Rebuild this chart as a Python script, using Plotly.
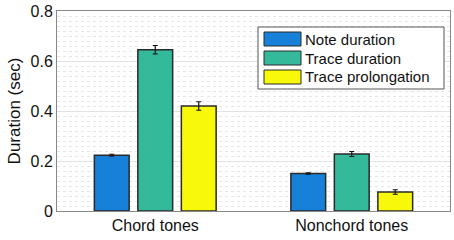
import plotly.graph_objects as go

categories = ["Chord tones", "Nonchord tones"]
series_names = ["Note duration", "Trace duration", "Trace prolongation"]
note_duration = [0.223, 0.150]
trace_duration = [0.645, 0.228]
trace_prolongation = [0.420, 0.076]
note_err = [0.004, 0.003]
trace_err = [0.017, 0.010]
prolong_err = [0.017, 0.009]
colors = ["#1780d8", "#35b99b", "#f8f80a"]

W, H = 454, 240
ML, MR, MT, MB = 57, 4, 11, 29
PW, PH = W - ML - MR, H - MT - MB

def px_x(x):
    return (x - ML) / PW

def px_y(y):
    return (H - MB - y) / PH

fig = go.Figure()
for name, vals, errs, col in zip(series_names,
                                 [note_duration, trace_duration, trace_prolongation],
                                 [note_err, trace_err, prolong_err], colors):
    fig.add_trace(go.Bar(
        x=categories, y=vals, name=name, showlegend=False,
        marker=dict(color=col, line=dict(color="#2a2a2a", width=1.5)),
        error_y=dict(type="data", array=errs, color="#111", thickness=1.2, width=2.5),
    ))

# custom legend (box, swatches, labels)
shapes = [dict(type="rect", xref="paper", yref="paper",
               x0=px_x(258), x1=px_x(444), y0=px_y(89), y1=px_y(27),
               line=dict(color="#555", width=1), fillcolor="white", layer="above")]
annotations = []
row_centers = [39, 58, 77]
for name, col, yc in zip(series_names, colors, row_centers):
    shapes.append(dict(type="rect", xref="paper", yref="paper",
                       x0=px_x(264), x1=px_x(301), y0=px_y(yc + 7), y1=px_y(yc - 7),
                       line=dict(color="#2a2a2a", width=1), fillcolor=col, layer="above"))
    annotations.append(dict(xref="paper", yref="paper", x=px_x(303), y=px_y(yc),
                            xanchor="left", yanchor="middle", text=name, showarrow=False,
                            font=dict(size=15, color="#111")))

fig.update_layout(
    width=W, height=H,
    margin=dict(l=ML, r=MR, t=MT, b=MB),
    paper_bgcolor="white", plot_bgcolor="white",
    barmode="group", bargap=0.336, bargroupgap=0.2,
    font=dict(family="Liberation Sans, Arial, sans-serif", color="#111", size=14),
    shapes=shapes, annotations=annotations,
    showlegend=False,
)
fig.update_xaxes(showline=True, linecolor="#888", linewidth=1, mirror=True,
                 ticks="", tickfont=dict(size=16), showgrid=False, automargin=False)
fig.update_yaxes(range=[0, 0.8], dtick=0.2, tickformat="~g",
                 showline=True, linecolor="#888", linewidth=1, mirror=True,
                 ticks="", tickfont=dict(size=16), automargin=False,
                 gridcolor="#e2e2e2", gridwidth=1,
                 minor=dict(dtick=0.02, showgrid=True, gridcolor="#e6e6e6", griddash="dot"),
                 title=dict(text="Duration (sec)", font=dict(size=17), standoff=5),
                 zeroline=False)

fig.write_html("out.html", config={"displayModeBar": False},
               post_script="document.body.style.margin='0px';")
